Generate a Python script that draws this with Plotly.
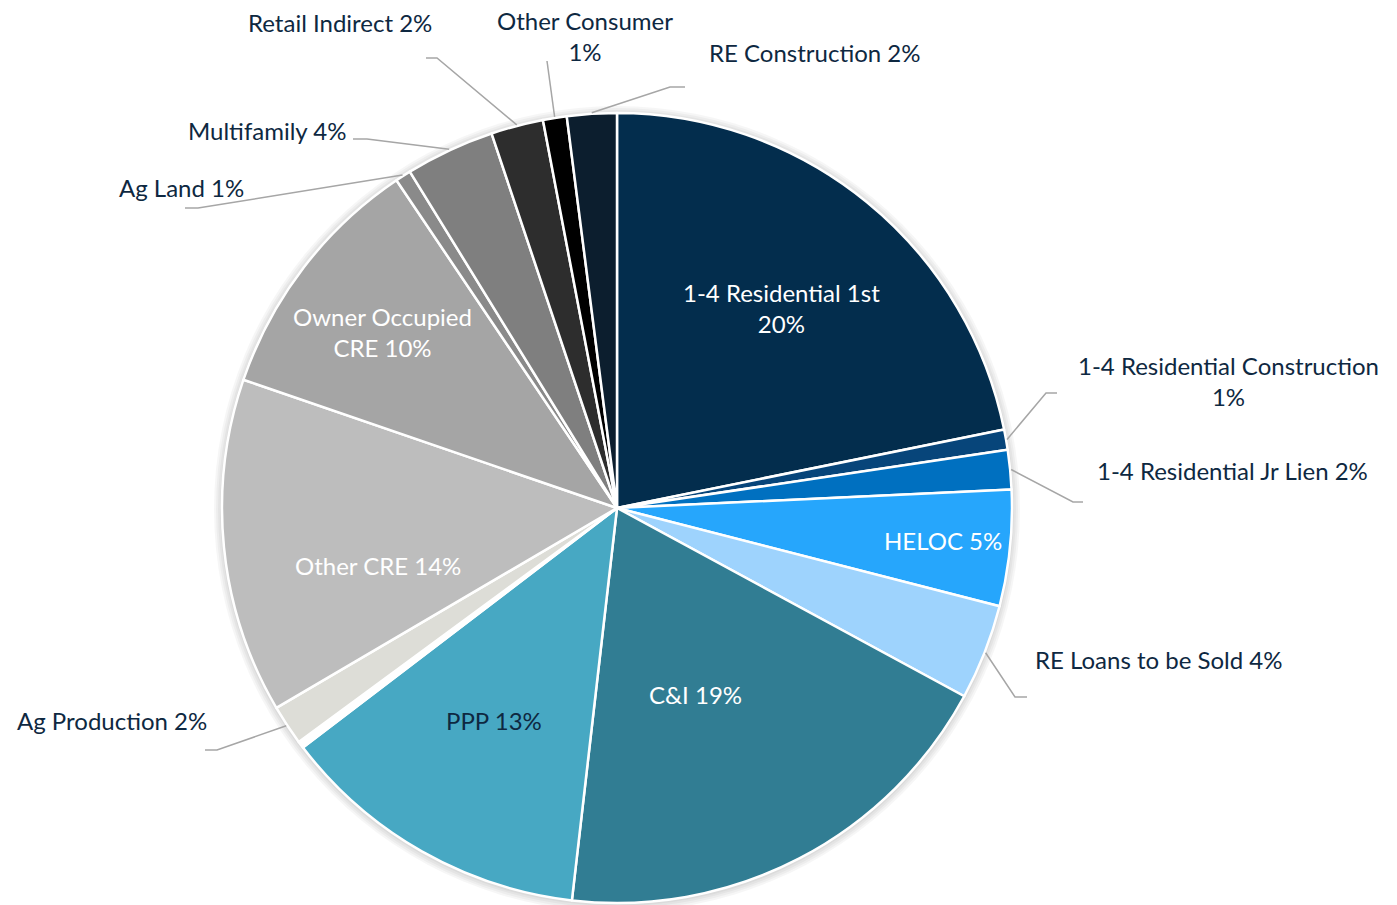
import numpy as np
import plotly.graph_objects as go

# slices, clockwise from 12 o'clock
categories = ["1-4 Residential 1st", "1-4 Residential Construction", "1-4 Residential Jr Lien",
              "HELOC", "RE Loans to be Sold", "C&I", "PPP", "Unlabeled", "Ag Production",
              "Other CRE", "Owner Occupied CRE", "Ag Land", "Multifamily", "Retail Indirect",
              "Other Consumer", "RE Construction"]
values = [21.8, 0.83, 1.6, 4.75, 3.9, 18.9, 12.8, 0.28, 1.64,
          13.7, 10.3, 0.64, 3.64, 2.14, 0.97, 2.03]
label_text = ["1-4 Residential 1st<br>20%", "1-4 Residential Construction<br>1%",
              "1-4 Residential Jr Lien 2%", "HELOC 5%", "RE Loans to be Sold 4%", "C&I 19%",
              "PPP 13%", "", "Ag Production 2%", "Other CRE 14%", "Owner Occupied<br>CRE 10%",
              "Ag Land 1%", "Multifamily 4%", "Retail Indirect 2%", "Other Consumer<br>1%",
              "RE Construction 2%"]
colors = ["#032D4D", "#07457A", "#0070C0", "#26A6FC", "#9ED3FD", "#317D93", "#47A8C3", "#FFFFFF",
          "#DDDDD7", "#BDBDBD", "#A5A5A5", "#8A8A8A", "#7F7F7F", "#2D2D2D", "#000000", "#0C1E2E"]

# page has an 8px body margin, so the figure starts 8px in; size it to reach the window edges
OFF = 8
W, H = 1397 - OFF, 905 - OFF
CX, CY, R = 617, 508, 395   # in window pixels
TXT = "#0E2841"

# label placement in window pixels: inside labels (x, y, colour); outside ones also get elbow + end of leader
inside = {
    "1-4 Residential 1st": (782, 308, "#FFFFFF"),
    "HELOC": (943, 540, "#FFFFFF"),
    "C&I": (695, 694, "#FFFFFF"),
    "PPP": (494, 720, TXT),
    "Other CRE": (378, 565, "#FFFFFF"),
    "Owner Occupied CRE": (382, 332, "#FFFFFF"),
}
outside = {
    "1-4 Residential Construction": (1228, 381, (1046, 393), 1057),
    "1-4 Residential Jr Lien": (1232, 470, (1073, 502), 1083),
    "RE Loans to be Sold": (1158, 659, (1015, 697), 1027),
    "Ag Production": (112, 720, (217, 750), 205),
    "Ag Land": (181, 188, (198, 208), 185),
    "Multifamily": (267, 130, (367, 139), 353),
    "Retail Indirect": (340, 22, (437, 58), 426),
    "Other Consumer": (585, 36, (547, 61), 547),
    "RE Construction": (815, 52, (670, 87), 685),
}


def px(x, y):
    return (x - OFF) / W, 1 - (y - OFF) / H


x0, y1 = px(CX - R, CY - R)
x1, y0 = px(CX + R, CY + R)

fig = go.Figure()
fig.add_trace(go.Pie(
    labels=categories,
    values=values,
    sort=False,
    direction="clockwise",
    rotation=0,
    marker=dict(colors=colors, line=dict(color="white", width=2.5)),
    textinfo="none",
    hoverinfo="skip",
    showlegend=False,
    domain=dict(x=[x0, x1], y=[max(y0, 0), y1]),
))

# slice mid angles (clockwise from 12 o'clock) for leader starts
frac = np.array(values) / np.sum(values)
mid = (np.cumsum(frac) - frac / 2) * 2 * np.pi

annotations = []
shapes = []

# soft shadow round the pie
for k in [8, 6, 4, 2]:
    sx0, sy1 = px(CX - R - k, CY - R - k + 1)
    sx1, sy0 = px(CX + R + k, CY + R + k + 1)
    shapes.append(dict(type="circle", xref="paper", yref="paper", x0=sx0, x1=sx1, y0=sy0, y1=sy1,
                       fillcolor="rgba(0,0,0,0.035)", line=dict(width=0), layer="below"))

for i, c in enumerate(categories):
    if c in inside:
        x, y, col = inside[c]
    elif c in outside:
        x, y, (ex, ey), endx = outside[c]
        col = TXT
        sx = CX + (R + 1) * np.sin(mid[i])
        sy = CY - (R + 1) * np.cos(mid[i])
        pts = [px(sx, sy), px(ex, ey), px(endx, ey)]
        path = "M {} {} L {} {} L {} {}".format(*[v for p in pts for v in p])
        shapes.append(dict(type="path", path=path, xref="paper", yref="paper",
                           line=dict(color="#A6A6A6", width=1.5)))
    else:
        continue
    ax, ay = px(x, y)
    annotations.append(dict(x=ax, y=ay, xref="paper", yref="paper", text=label_text[i],
                            xanchor="center", yanchor="middle", showarrow=False,
                            font=dict(color=col, size=24)))

fig.update_layout(
    width=W, height=H,
    margin=dict(l=0, r=0, t=0, b=0),
    paper_bgcolor="white",
    plot_bgcolor="white",
    font=dict(family="Lato", color=TXT),
    annotations=annotations,
    shapes=shapes,
)

fig.write_html("out.html")
